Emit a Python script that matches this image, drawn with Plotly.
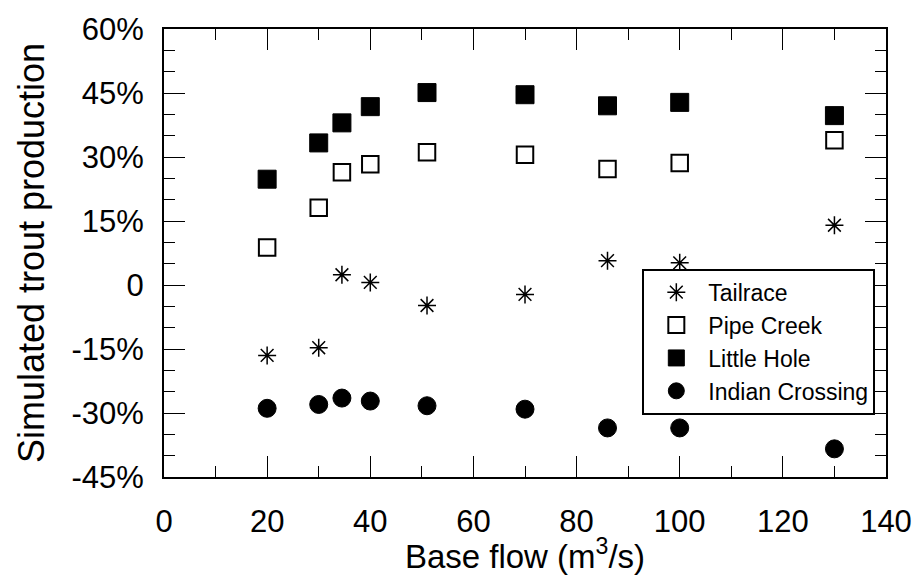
import plotly.graph_objects as go

flow = [20, 30, 34.5, 40, 51, 70, 86, 100, 130]
tailrace = [-16.5, -14.7, 2.4, 0.6, -4.8, -2.2, 5.7, 5.2, 14.0]
pipe_creek = [8.8, 18.1, 26.4, 28.3, 31.1, 30.5, 27.2, 28.6, 33.9]
little_hole = [24.8, 33.3, 38.0, 41.8, 45.1, 44.6, 42.0, 42.8, 39.7]
indian_crossing = [-28.9, -28.0, -26.5, -27.2, -28.3, -29.1, -33.5, -33.5, -38.4]

y_tickvals = [-45, -30, -15, 0, 15, 30, 45, 60]
y_ticktext = ["-45%", "-30%", "-15%", "0", "15%", "30%", "45%", "60%"]
x_tickvals = [0, 20, 40, 60, 80, 100, 120, 140]

FONT = "Liberation Sans, Arial, sans-serif"

fig = go.Figure()
fig.add_trace(go.Scatter(
    x=flow, y=tailrace, mode="markers", name="Tailrace",
    marker=dict(symbol="asterisk-open", size=15, color="black",
                line=dict(color="black", width=1.5))))
fig.add_trace(go.Scatter(
    x=flow, y=pipe_creek, mode="markers", name="Pipe Creek",
    marker=dict(symbol="square-open", size=16.5, color="black",
                line=dict(color="black", width=2))))
fig.add_trace(go.Scatter(
    x=flow, y=little_hole, mode="markers", name="Little Hole",
    marker=dict(symbol="square", size=18, color="black",
                line=dict(color="black", width=1))))
fig.add_trace(go.Scatter(
    x=flow, y=indian_crossing, mode="markers", name="Indian Crossing",
    marker=dict(symbol="circle", size=18, color="black",
                line=dict(color="black", width=1))))

axis_common = dict(
    showgrid=False, zeroline=False, showline=True, linecolor="black",
    linewidth=2, mirror="ticks", ticks="inside", ticklen=21, tickwidth=1.3,
    tickcolor="black", tickfont=dict(family=FONT, size=31, color="black"),
)

fig.update_xaxes(
    range=[0, 140], tickvals=x_tickvals,
    minor=dict(dtick=10, ticks="inside", ticklen=11, tickwidth=1.3, tickcolor="black"),
    title=dict(text="Base flow (m<sup>3</sup>/s)", font=dict(family=FONT, size=33, color="black"),
               standoff=0),
    ticklabelstandoff=16,
    **axis_common)
fig.update_yaxes(
    range=[-45, 60], tickvals=y_tickvals, ticktext=y_ticktext,
    minor=dict(dtick=5, ticks="inside", ticklen=11, tickwidth=1.3, tickcolor="black"),
    title=dict(text="Simulated trout production", font=dict(family=FONT, size=36, color="black"),
               standoff=16),
    ticklabelstandoff=12,
    **axis_common)

fig.update_layout(
    width=924, height=575,
    margin=dict(l=164, r=31, t=21, b=98),
    paper_bgcolor="white", plot_bgcolor="white",
    font=dict(family=FONT, color="black"),
    legend=dict(
        x=0.6625, y=0.465, xanchor="left", yanchor="top",
        bordercolor="black", borderwidth=2, bgcolor="white",
        font=dict(family=FONT, size=23, color="black"),
        itemwidth=54, tracegroupgap=0,
    ),
    showlegend=True,
)

fig.write_html("out.html")
